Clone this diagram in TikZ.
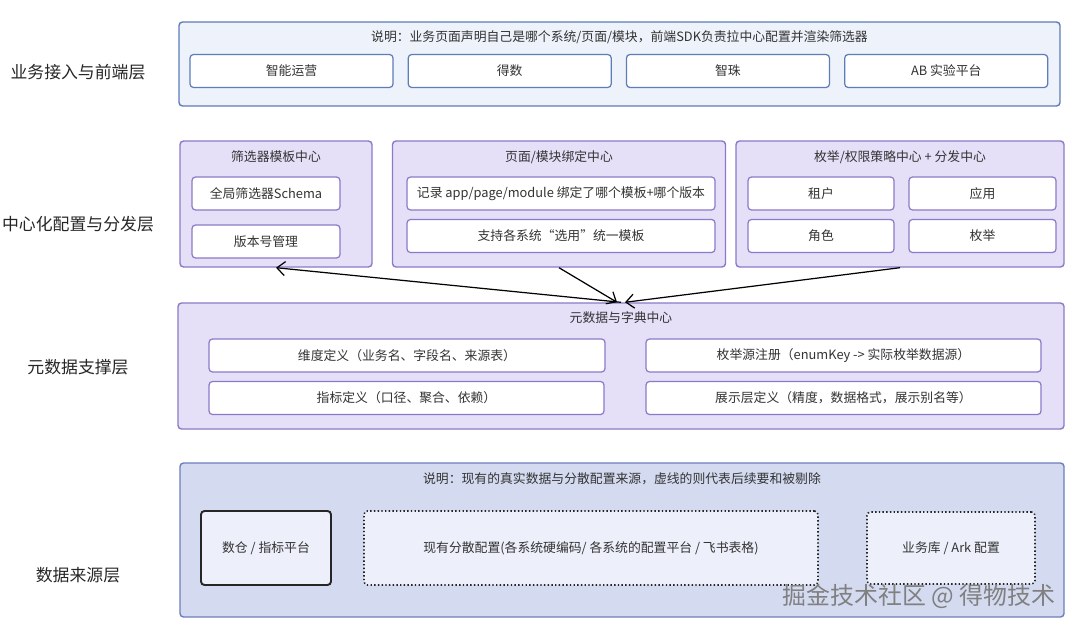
\documentclass[tikz,border=0pt]{standalone}
\usepackage{fontspec}
\setmainfont{Noto Sans CJK SC}
\usetikzlibrary{
    positioning,                      % right=of, below=of
    arrows.meta                       % Straight Barb
}
\definecolor{front_fill}{HTML}{EEF2FB}
\definecolor{front_border}{HTML}{5D7DB9}
\definecolor{cfg_fill}{HTML}{E6DFF8}
\definecolor{cfg_border}{HTML}{8C7AC8}
\definecolor{src_fill}{HTML}{D4DBF0}
\definecolor{src_border}{HTML}{6D7EBE}
\definecolor{src_item_fill}{HTML}{EDF0FA}
\definecolor{text_dark}{HTML}{333333}
\newcommand\itemfont{\fontsize{7.3}{9}\selectfont}
\newcommand\layerfont{\fontsize{9.6}{12}\selectfont}
\tikzset{
    layer/.style={
        draw, rounded corners=2pt, line width=0.8pt
    },
    frontlayer/.style={layer, draw=front_border, fill=front_fill},
    cfglayer/.style={layer, draw=cfg_border, fill=cfg_fill},
    srclayer/.style={layer, draw=src_border, fill=src_fill},
    item/.style={
        draw, rounded corners=2pt, line width=0.7pt,
        fill=white, align=center, font=\itemfont, text=text_dark,
        minimum height=6.6mm, inner sep=1pt
    },
    frontitem/.style={item, draw=front_border},
    cfgitem/.style={item, draw=cfg_border},
    srcitem/.style={item, fill=src_item_fill, minimum height=14.8mm},
    ttl/.style={font=\itemfont, text=text_dark, inner sep=1pt},
    lyrname/.style={font=\layerfont, text=black!85},
    arrow/.style={
        -{Straight Barb[length=1.6mm,width=2.8mm]}, line width=0.7pt
    }
}

\begin{document}
\begin{tikzpicture}[x=0.2mm, y=-0.2mm]
    \useasboundingbox (0,0) rectangle (1080,629);
    % layer names
    \node[lyrname] (n1) at (78,72)  {业务接入与前端层};
    \node[lyrname] (n2) at (78,224) {中心化配置与分发层};
    \node[lyrname] (n3) at (78,367) {元数据支撑层};
    \node[lyrname] (n4) at (78,575) {数据来源层};

    % business access / front end
    \node[frontlayer, minimum width=176.2mm, minimum height=16.8mm] (front) at (619.5,64) {};
    \node[ttl] (frontnote) at (619.5,37)
        {说明：业务页面声明自己是哪个系统/页面/模块，前端SDK负责拉中心配置并渲染筛选器};
    \node[frontitem, minimum width=40.6mm] (znyy) at (291.5,71) {智能运营};
    \node[frontitem, minimum width=40.6mm, right=2.8mm of znyy] (ds) {得数};
    \node[frontitem, minimum width=40.6mm, right=2.8mm of ds] (zz) {智珠};
    \node[frontitem, minimum width=40.6mm, right=2.8mm of zz] (ab) {AB 实验平台};

    % central configuration
    \node[cfglayer, minimum width=38.4mm, minimum height=25.2mm] (tplc) at (276,204) {};
    \node[ttl] (tplt) at (276,157) {筛选器模板中心};
    \node[cfgitem, minimum width=29.6mm] (schema) at (266,193.5) {全局筛选器Schema};
    \node[cfgitem, minimum width=29.6mm] (ver) at (266,241.5) {版本号管理};

    \node[cfglayer, minimum width=66.6mm, minimum height=25.2mm] (bind) at (559,204) {};
    \node[ttl] (bindt) at (559,157) {页面/模块绑定中心};
    \node[cfgitem, minimum width=61.6mm] (rec) at (561,193.5) {记录 app/page/module 绑定了哪个模板+哪个版本};
    \node[cfgitem, minimum width=61.6mm] (sel) at (561,236) {支持各系统“选用”统一模板};

    \node[cfglayer, minimum width=65.6mm, minimum height=25.2mm] (pol) at (900,204) {};
    \node[ttl] (polt) at (900,157) {枚举/权限策略中心 + 分发中心};
    \node[cfgitem, minimum width=29.2mm] (zh) at (821,193.5) {租户};
    \node[cfgitem, minimum width=29.4mm] (yy) at (982.5,193.5) {应用};
    \node[cfgitem, minimum width=29.2mm] (js) at (821,236) {角色};
    \node[cfgitem, minimum width=29.4mm] (mj) at (982.5,236) {枚举};

    % metadata
    \node[cfglayer, minimum width=177.2mm, minimum height=25.2mm] (meta) at (621,366) {};
    \node[ttl] (metat) at (621,318) {元数据与字典中心};
    \node[cfgitem, minimum width=79.2mm] (dim) at (407,355.5) {维度定义（业务名、字段名、来源表）};
    \node[cfgitem, minimum width=79mm] (enumsrc) at (843.5,355.5) {枚举源注册（enumKey -> 实际枚举数据源）};
    \node[cfgitem, minimum width=79mm] (idx) at (406.5,398) {指标定义（口径、聚合、依赖）};
    \node[cfgitem, minimum width=79mm] (disp) at (843.5,398) {展示层定义（精度，数据格式，展示别名等）};

    % data sources
    \node[srclayer, minimum width=176.8mm, minimum height=30.8mm] (src) at (622,540) {};
    \node[ttl] (srct) at (622,479) {说明：现有的真实数据与分散配置来源，虚线的则代表后续要和被剔除};
    \node[srcitem, draw=black!85, line width=1.1pt, minimum width=26mm] (dw) at (266,548) {数仓 / 指标平台};
    \node[srcitem, draw=black!85, dash pattern=on 0.8pt off 1.3pt, line width=0.9pt,
        minimum width=90.8mm] (scat) at (591,548) {现有分散配置(各系统硬编码/ 各系统的配置平台 / 飞书表格)};
    \node[srcitem, draw=black!85, dash pattern=on 0.8pt off 1.3pt, line width=0.9pt,
        minimum width=33.6mm, minimum height=14.4mm] (biz) at (951,548) {业务库 / Ark 配置};

    % connectors
    \draw[arrow] (meta.north) -- (tplc.south);
    \draw[arrow] (bind.south) -- ([xshift=-0.8mm]meta.north);
    \draw[arrow] (pol.south) -- ([xshift=0.8mm]meta.north);

    \node[font=\fontsize{13.6}{15}\selectfont, text=black!50] (mark) at (919,596) {掘金技术社区 @ 得物技术};
\end{tikzpicture}
\end{document}
